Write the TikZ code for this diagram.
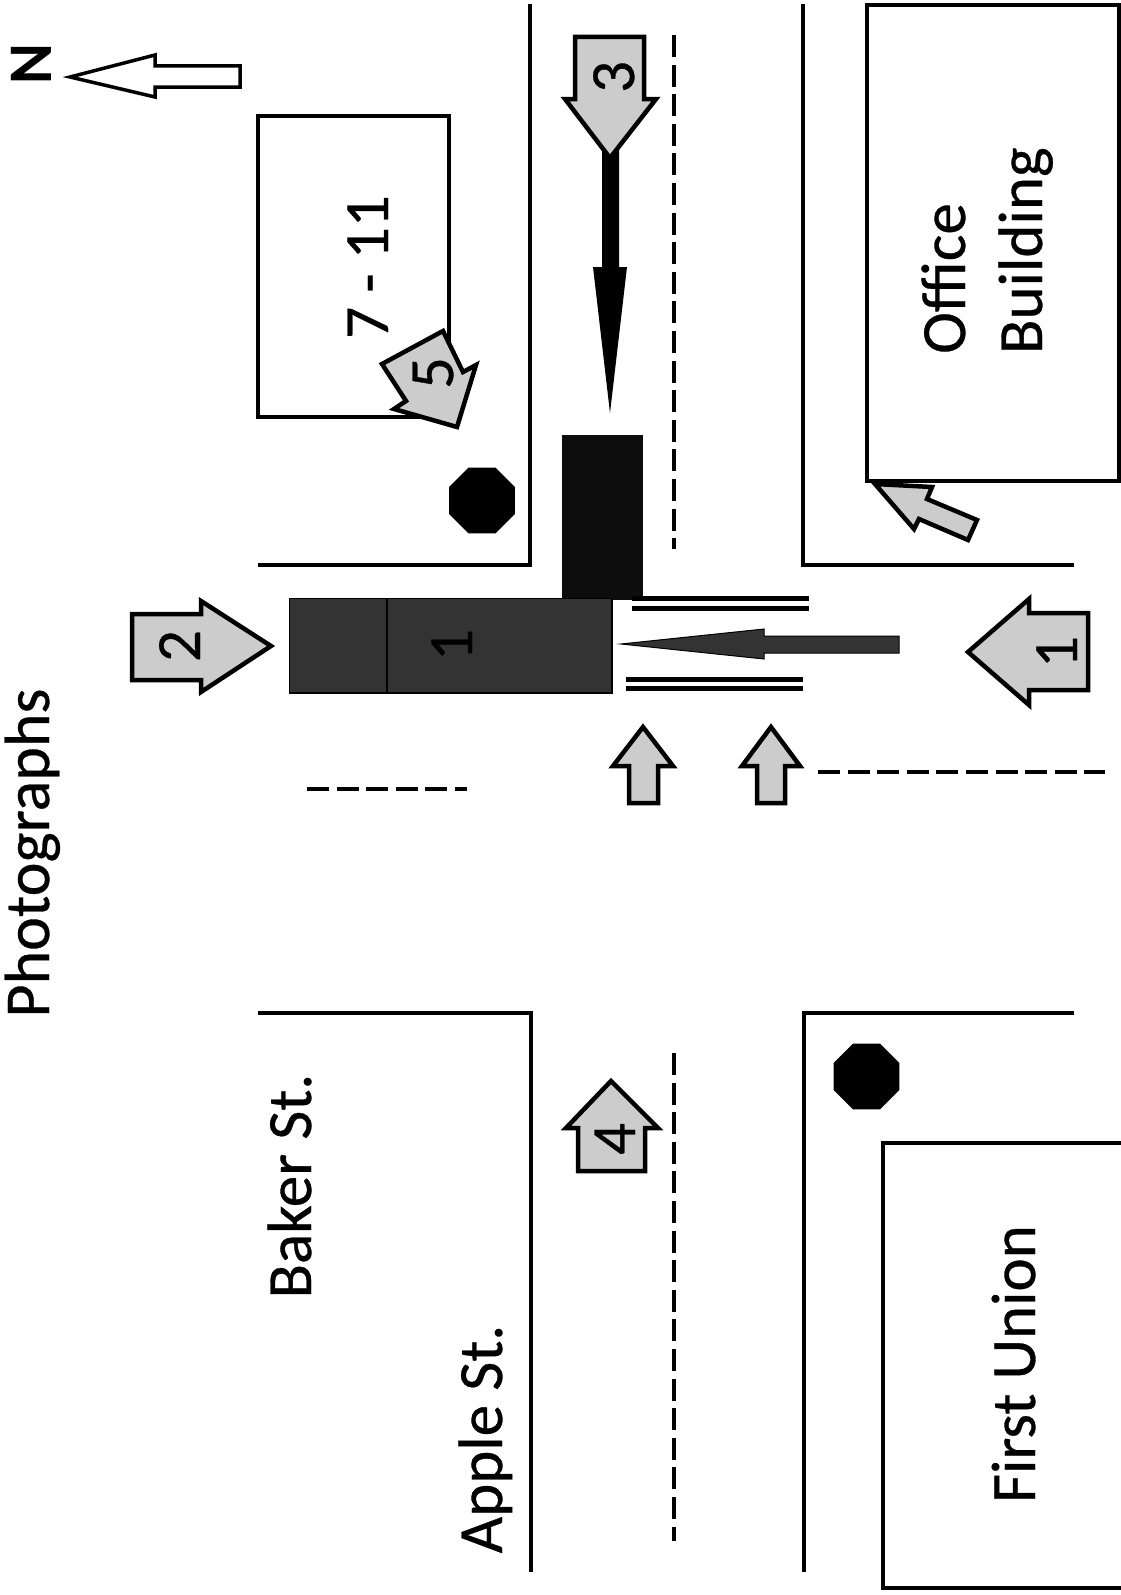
\documentclass[tikz,border=0pt]{standalone}
\usepackage{fontspec}
\setmainfont{Carlito}[FakeBold=0.5]
\newfontfamily\plainbold{Carlito Bold}
\usetikzlibrary{shapes.geometric}
\definecolor{stip}{gray}{0.80}
\definecolor{stipdark}{gray}{0.20}
\definecolor{stipblack}{gray}{0.05}
\tikzset{
  road/.style={draw=black,line width=3.5pt,line join=miter},
  bldg/.style={draw=black,line width=3.5pt,fill=white},
  photoarrow/.style={draw=black,line width=4.5pt,fill=stip,miter limit=10},
  hollowarrow/.style={draw=black,line width=3.5pt,fill=white,miter limit=10},
  centerdash/.style={draw=black,line width=3.5pt,dash pattern=on 22pt off 7.6pt},
  stoplines/.style={draw=black,line width=5pt},
  octa/.style={regular polygon,regular polygon sides=8,fill=black,minimum size=71pt,inner sep=0pt,outer sep=0pt},
  bigtext/.style={rotate=90,anchor=base,inner sep=0pt,font=\fontsize{63}{72}\selectfont},
  lefttext/.style={rotate=90,anchor=base west,inner sep=0pt,font=\fontsize{63}{72}\selectfont},
  digit/.style={rotate=90,anchor=base,inner sep=0pt,font=\fontsize{63}{72}\selectfont}
}
\begin{document}
\begin{tikzpicture}[x=1pt,y=-1pt]
\useasboundingbox (0,0) rectangle (1121,1595);
\fill[white] (0,0) rectangle (1121,1595);
% road edges
\draw[road] (530,4) -- (530,565) -- (258,565);
\draw[road] (803,4) -- (803,565) -- (1074,565);
\draw[road] (258,1013) -- (531,1013) -- (531,1572);
\draw[road] (1074,1013) -- (804,1013) -- (804,1572);
% centre lines
\draw[centerdash] (674,35) -- (674,549);
\draw[centerdash] (674,1053) -- (674,1541);
\draw[centerdash] (307,789) -- (467,789);
\draw[centerdash] (818,772) -- (1105,772);
% buildings
\draw[bldg] (258,116) rectangle (449,417);
\draw[bldg] (867,5) rectangle (1119,481);
\draw[bldg] (883,1143) rectangle (1123,1588);
% stop signs
\node[octa] (stopA) at (482,500.5) {};
\node[octa] (stopB) at (866.5,1076.5) {};
% vehicles
\fill[stipblack] (562,435) rectangle (643,600);
\fill[stipdark,draw=black,line width=1.5pt] (289.5,598.5) rectangle (612,693);
\draw[black,line width=2pt] (387,598) -- (387,693);
\node[digit,text=black] (vehone) at (472,645) {1};
% stop lines
\draw[stoplines] (632,598.5) -- (809,598.5);
\draw[stoplines] (632,608) -- (809,608);
\draw[stoplines] (626,679.5) -- (803,679.5);
\draw[stoplines] (626,688.5) -- (803,688.5);
% vehicle path arrows
\fill[stipdark,draw=black,line width=1pt] (621,644) -- (764,629) -- (764,636) -- (899,636) -- (899,653) -- (764,653) -- (764,659) -- cycle;
% north arrow
\path[hollowarrow] (70,77) -- (155,55) -- (155,66) -- (240,66) -- (240,87) -- (155,87) -- (155,97) -- cycle;
\node[rotate=90,anchor=base,inner sep=0pt,font=\plainbold\fontsize{62}{72}\selectfont] (north) at (51,64.5) {N};
% black arrow of photo 3 lies under the arrow
\fill[black] (602,140) -- (619,140) -- (619,267) -- (627,267) -- (610,413) -- (593,267) -- (602,267) -- cycle;
% photo arrows
\path[photoarrow] (968,652) -- (1029,599) -- (1029,613) -- (1088,613) -- (1088,690) -- (1029,690) -- (1029,705) -- cycle;
\node[digit] (labone) at (1077,652) {1};
\path[photoarrow] (271,646) -- (201,601) -- (201,614) -- (132,614) -- (132,680) -- (201,680) -- (201,692) -- cycle;
\node[digit] (labtwo) at (200,646) {2};
\path[photoarrow] (575,37) -- (644,37) -- (644,99) -- (656,99) -- (610,158) -- (565,99) -- (575,99) -- cycle;
\node[digit] (labthree) at (634,77) {3};
\path[photoarrow] (611,1081) -- (658,1128) -- (645,1128) -- (645,1171) -- (578,1171) -- (578,1128) -- (566,1128) -- cycle;
\node[digit] (labfour) at (635,1139) {4};
\path[photoarrow] (382,364) -- (443,331) -- (463,372) -- (476,365) -- (457,427) -- (394,409) -- (406,401) -- cycle;
\node[digit] (labfive) at (453,373) {5};
\path[photoarrow] (875,484) -- (932,487) -- (927,499) -- (977,520) -- (968,540) -- (919,519) -- (914,529) -- cycle;
\path[photoarrow] (643,727) -- (673,766) -- (658,766) -- (658,803) -- (629,803) -- (629,766) -- (613,766) -- cycle;
\path[photoarrow] (771,727) -- (800,766) -- (785,766) -- (785,803) -- (757,803) -- (757,766) -- (742,766) -- cycle;
% text
\node[rotate=90,anchor=base,inner sep=0pt,font=\fontsize{64}{72}\selectfont] (title) at (49,853) {Photographs};
\node[bigtext] (baker) at (311,1186) {Baker St.};
\node[bigtext] (apple) at (502,1439) {Apple St.};
\node[bigtext] (firstunion) at (1035,1364) {First Union};
\node[bigtext] (seven) at (388,267) {7 - 11};
\node[lefttext] (office) at (965,354) {Office};
\node[lefttext] (building) at (1042,354) {Building};
\end{tikzpicture}
\end{document}
